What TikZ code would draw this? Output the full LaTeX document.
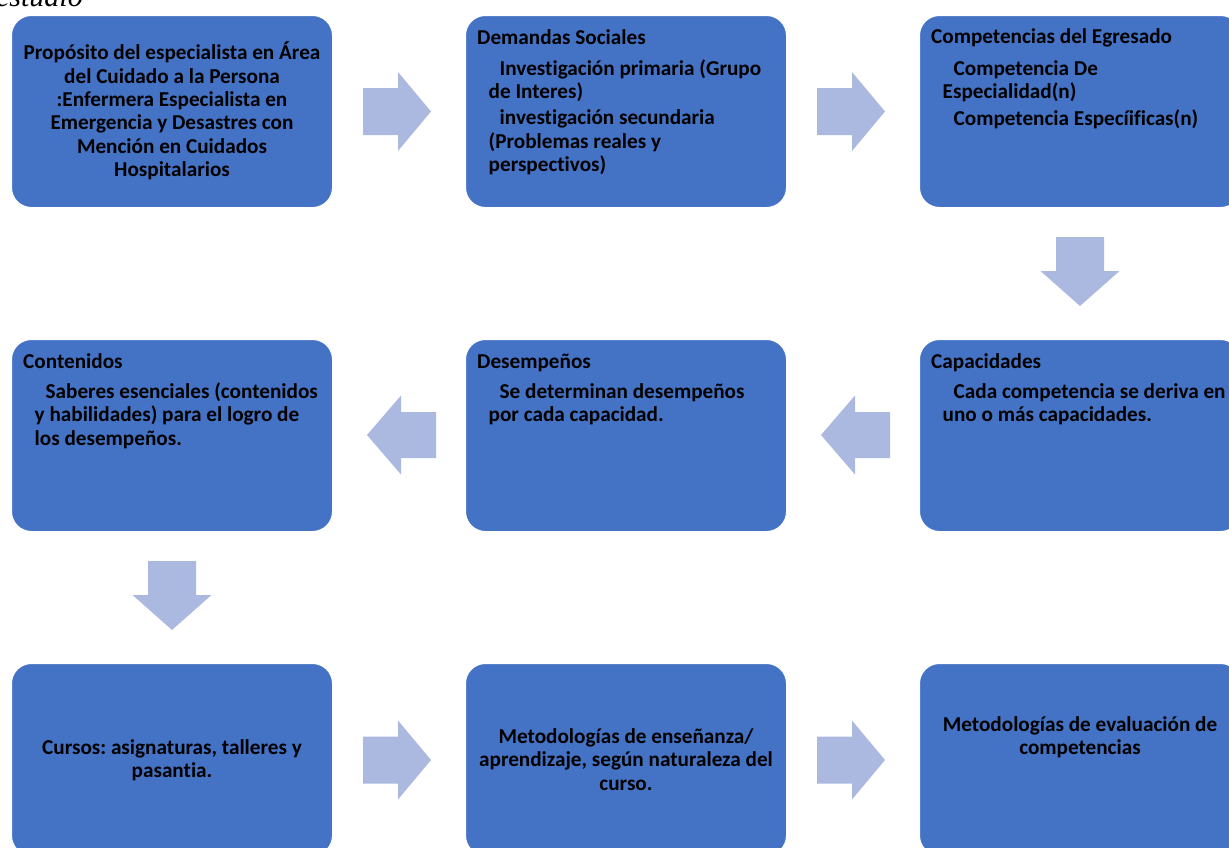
\documentclass[tikz,border=0pt]{standalone}
\usepackage{fontspec}
\setmainfont{Carlito}[Ligatures=NoCommon]
\newfontfamily\serifit{Liberation Serif}
\definecolor{boxblue}{HTML}{4472C4}
\definecolor{arrowblue}{HTML}{ABB9E0}
\newcommand\topstrut{\rule{0pt}{18bp}}
\newcommand\firstind{\hspace*{22.5bp}}
\newcommand\bodyind{\hspace*{11.5bp}}
\frenchspacing
\tikzset{
  box/.style={rectangle, rounded corners=20bp, fill=boxblue, draw=white, line width=1bp,
    minimum width=321bp, minimum height=192bp, anchor=north west, inner sep=0},
  txt/.style={inner sep=0, font=\bfseries\fontsize{21.2bp}{23.4bp}\selectfont, text=black},
  ltxt/.style={txt, align=left, anchor=north west},
  ctxt/.style={txt, align=center, anchor=north},
  rightarr/.pic={\fill[arrowblue] (0,-23.5) -- (35,-23.5) -- (35,-39.5) -- (68,0) -- (35,39.5) -- (35,23.5) -- (0,23.5) -- cycle;},
  leftarr/.pic={\fill[arrowblue] (0,0) -- (34,-39.5) -- (34,-23) -- (69,-23) -- (69,23) -- (34,23) -- (34,39.5) -- cycle;},
  downarr/.pic={\fill[arrowblue] (-24,0) -- (24,0) -- (24,34) -- (39.5,34) -- (0,69) -- (-39.5,34) -- (-24,34) -- cycle;}
}
\begin{document}
\frenchspacing
\begin{tikzpicture}[x=1bp,y=-1bp]
\useasboundingbox (0,0) rectangle (1229,848);

\node[font=\serifit\itshape\fontsize{30bp}{32bp}\selectfont, anchor=base east, inner sep=0] (cap) at (83,6) {estudio};

% boxes
\node[box] (b1) at (11,15) {};
\node[box] (b2) at (465,15) {};
\node[box] (b3) at (919,15) {};
\node[box] (b4) at (11,339) {};
\node[box] (b5) at (465,339) {};
\node[box] (b6) at (919,339) {};
\node[box] (b7) at (11,663) {};
\node[box] (b8) at (465,663) {};
\node[box] (b9) at (919,663) {};

% texts
\node[ctxt] (t1) at (172,41.5) {\topstrut Propósito del especialista en Área\\del Cuidado a la Persona\\:Enfermera Especialista en\\Emergencia y Desastres con\\Mención en Cuidados\\Hospitalarios};

\node[ltxt] (t2) at (477,26.3) {\topstrut Demandas Sociales\\[7.3bp]
\firstind Investigación primaria (Grupo\\
\bodyind de Interes)\\[2.6bp]
\firstind investigación secundaria\\
\bodyind (Problemas reales y\\
\bodyind perspectivos)};

\node[ltxt] (t3) at (931,25.3) {\topstrut Competencias del Egresado\\[8.3bp]
\firstind Competencia De\\
\bodyind Especialidad(n)\\[3.3bp]
\firstind Competencia Especíificas(n)};

\node[ltxt] (t4) at (23,350.3) {\topstrut Contenidos\\[6.6bp]
\firstind Saberes esenciales (contenidos\\
\bodyind y habilidades) para el logro de\\
\bodyind los desempeños.};

\node[ltxt] (t5) at (477,350.3) {\topstrut Desempeños\\[6.6bp]
\firstind Se determinan desempeños\\
\bodyind por cada capacidad.};

\node[ltxt] (t6) at (931,350) {\topstrut Capacidades\\[6.6bp]
\firstind Cada competencia se deriva en\\
\bodyind uno o más capacidades.};

\node[ctxt] (t7) at (172,736) {\topstrut Cursos: asignaturas, talleres y\\pasantia.};
\node[ctxt] (t8) at (626,725) {\topstrut Metodologías de enseñanza/\\aprendizaje, según naturaleza del\\curso.};
\node[ctxt] (t9) at (1080,713) {\topstrut Metodologías de evaluación de\\competencias};

% block arrows
\pic at (363,111.5) {rightarr};
\pic at (817,111.5) {rightarr};
\pic at (1080,237) {downarr};
\pic at (821,435) {leftarr};
\pic at (367,435) {leftarr};
\pic at (172,561) {downarr};
\pic at (363,760) {rightarr};
\pic at (817,760) {rightarr};
\end{tikzpicture}
\end{document}
